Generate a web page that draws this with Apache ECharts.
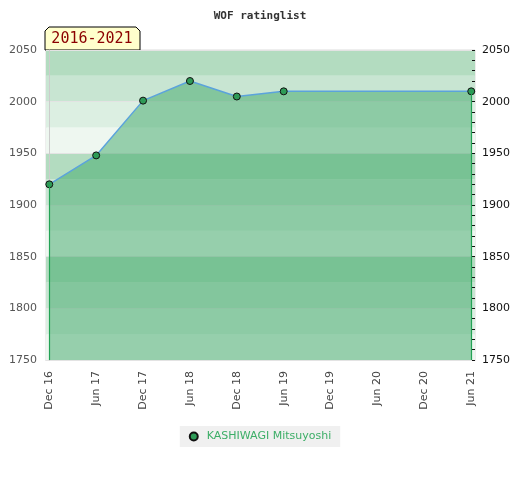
<!DOCTYPE html>
<html>
<head>
<meta charset="utf-8">
<script src="https://cdn.jsdelivr.net/npm/echarts@6/dist/echarts.min.js"></script>
<style>
html, body { margin: 0; padding: 0; background: #fff; }
#main { width: 520px; height: 480px; }
</style>
</head>
<body>
<div id="main"></div>
<script>
// data
var chartTitle = 'WOF ratinglist';
var periodLabel = '2016-2021';
var playerName = 'KASHIWAGI Mitsuyoshi';
var periods = ['Dec 16', 'Jun 17', 'Dec 17', 'Jun 18', 'Dec 18', 'Jun 19', 'Dec 19', 'Jun 20', 'Dec 20', 'Jun 21'];
var ratings = [1920, 1948, 2001, 2020, 2005, 2010, null, null, null, 2010];
var yTicks = [1750, 1800, 1850, 1900, 1950, 2000, 2050];

var yMin = yTicks[0], yMax = yTicks[yTicks.length - 1];

// pairs for the value x axis
var points = ratings.map(function (v, i) { return [i, v]; });
var idx = periods.map(function (p, i) { return i; });
var firstI = ratings.findIndex(function (v) { return v != null; });
var lastI = ratings.length - 1;
while (ratings[lastI] == null) lastI--;

var myChart = echarts.init(document.getElementById('main'));
var option = {
    animation: false,
    title: {
        text: chartTitle,
        left: 'center',
        top: 6,
        textStyle: { fontFamily: 'DejaVu Sans Mono', fontSize: 11, fontWeight: 'bold', color: '#333' }
    },
    legend: {
        bottom: 33,
        left: 'center',
        backgroundColor: '#f0f0f0',
        padding: [5, 9, 5, 9],
        itemWidth: 8,
        itemHeight: 8,
        itemGap: 10,
        icon: 'circle',
        textStyle: { color: '#3cae67', fontSize: 11, fontFamily: 'DejaVu Sans', padding: [0, 0, 0, 4] },
        data: [playerName]
    },
    grid: {
        left: 46, right: 45, top: 50, bottom: 120,
        show: true, borderColor: '#dcdcdc', borderWidth: 1
    },
    xAxis: {
        type: 'value',
        min: -0.07,
        max: lastI + 0.08,
        axisLine: { show: true, lineStyle: { color: '#cccccc' } },
        axisTick: { show: false },
        splitLine: { show: false },
        axisLabel: {
            customValues: idx,
            rotate: 90,
            margin: 11,
            color: '#444',
            fontSize: 11,
            fontFamily: 'DejaVu Sans',
            formatter: function (v) { return periods[Math.round(v)]; }
        }
    },
    yAxis: [{
        type: 'value',
        position: 'left',
        min: yMin, max: yMax, interval: 50,
        z: 1,
        axisLine: { show: true, lineStyle: { color: '#cccccc' } },
        axisTick: { show: false },
        axisLabel: { color: '#555', fontSize: 11, fontFamily: 'DejaVu Sans', margin: 9, formatter: function (v) { return String(v); } },
        splitLine: { show: true, lineStyle: { color: '#e3e3e3', width: 1 } }
    }, {
        type: 'value',
        position: 'right',
        min: yMin, max: yMax, interval: 50,
        z: 3,
        axisLine: { show: false },
        axisTick: { show: true, inside: true, length: 3, lineStyle: { color: '#111' } },
        minorTick: { show: true, splitNumber: 5, length: 3, lineStyle: { color: '#111' } },
        axisLabel: { color: '#111', fontSize: 11, fontFamily: 'DejaVu Sans', margin: 7, formatter: function (v) { return String(v); } },
        splitLine: { show: false }
    }, {
        // band background
        type: 'value',
        min: yMin, max: yMax, interval: 25,
        z: 0,
        axisLine: { show: false },
        axisTick: { show: false },
        axisLabel: { show: false },
        splitLine: { show: false },
        splitArea: { show: true, areaStyle: { color: ['#eef7f0', '#dcefe2', '#c8e5d2', '#b3dcc0'] } }
    }],
    graphic: [{
        type: 'group',
        z: 100,
        children: [{
            type: 'polygon',
            shape: { points: [[45, 50], [45, 31], [49, 27], [136, 27], [140, 31], [140, 50]] },
            style: { fill: '#ffffcc', stroke: '#000', lineWidth: 1 }
        }, {
            type: 'text',
            x: 92, y: 39,
            style: {
                text: periodLabel, fill: '#8b0000',
                font: '15px "DejaVu Sans Mono"',
                align: 'center', verticalAlign: 'middle'
            }
        }]
    }],
    series: [{
        name: playerName,
        type: 'line',
        data: points,
        connectNulls: true,
        symbol: 'circle',
        symbolSize: 7,
        itemStyle: { color: '#2e9b57', borderColor: '#111', borderWidth: 1 },
        lineStyle: { color: '#5ba3dc', width: 1.5 },
        areaStyle: { color: 'rgba(62,168,104,0.5)', opacity: 1, origin: 'start' },
        markLine: {
            silent: true,
            symbol: 'none',
            label: { show: false },
            lineStyle: { color: '#23a255', width: 1.2, type: 'solid', opacity: 1 },
            emphasis: { disabled: true },
            data: [
                [{ coord: [firstI, ratings[firstI]] }, { coord: [firstI, yMin] }],
                [{ coord: [lastI, ratings[lastI]] }, { coord: [lastI, yMin] }]
            ]
        }
    }]
};
if (option && typeof option === "object") {
    myChart.setOption(option, true);
}
</script>
</body>
</html>
